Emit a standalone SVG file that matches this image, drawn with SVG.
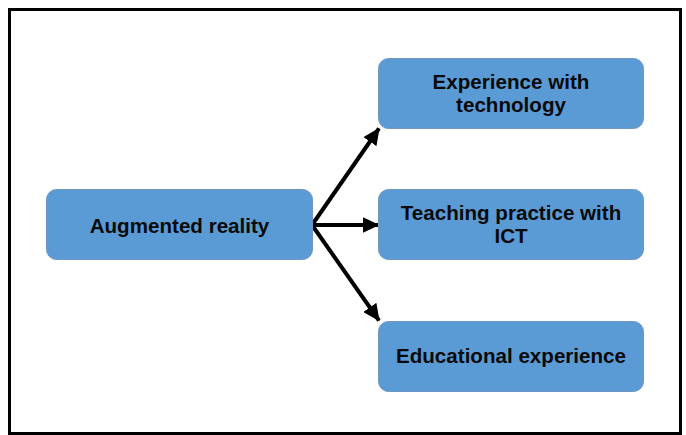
<svg xmlns="http://www.w3.org/2000/svg" width="686" height="435" viewBox="0 0 686 435">
<style>
.box{fill:#5B9BD5;stroke:#7096C4;stroke-width:1}
.lbl{font-family:"Liberation Sans",Arial,sans-serif;font-weight:bold;font-size:20.6px;fill:#0a0a0a;text-anchor:middle}
.con{stroke:#000;stroke-width:4;fill:none;marker-end:url(#ah)}
</style>
<defs>
<marker id="ah" markerUnits="userSpaceOnUse" markerWidth="17" markerHeight="16" refX="16" refY="8" orient="auto">
<path d="M0,0 L17,8 L0,16 Z" fill="#000"/>
</marker>
</defs>
<rect x="0" y="0" width="686" height="435" fill="#fff"/>
<rect x="9.5" y="9.5" width="671" height="424" fill="none" stroke="#000" stroke-width="3"/>
<g id="connectors">
<line class="con" x1="312" y1="225" x2="379" y2="128.5"/>
<line class="con" x1="312" y1="225" x2="378.5" y2="225"/>
<line class="con" x1="312" y1="225" x2="379" y2="320.5"/>
</g>
<g id="n-ar">
<rect class="box" x="46.5" y="189.5" width="266" height="70" rx="10"/>
<text class="lbl" x="179.5" y="232.5">Augmented reality</text>
</g>
<g id="n-exp">
<rect class="box" x="378.5" y="58.5" width="265" height="70" rx="10"/>
<text class="lbl" x="511" y="89">Experience with</text>
<text class="lbl" x="511" y="112">technology</text>
</g>
<g id="n-teach">
<rect class="box" x="378.5" y="189.5" width="265" height="70" rx="10"/>
<text class="lbl" x="511" y="220">Teaching practice with</text>
<text class="lbl" x="511" y="243">ICT</text>
</g>
<g id="n-edu">
<rect class="box" x="378.5" y="321.5" width="265" height="70" rx="10"/>
<text class="lbl" x="511" y="363">Educational experience</text>
</g>
</svg>
